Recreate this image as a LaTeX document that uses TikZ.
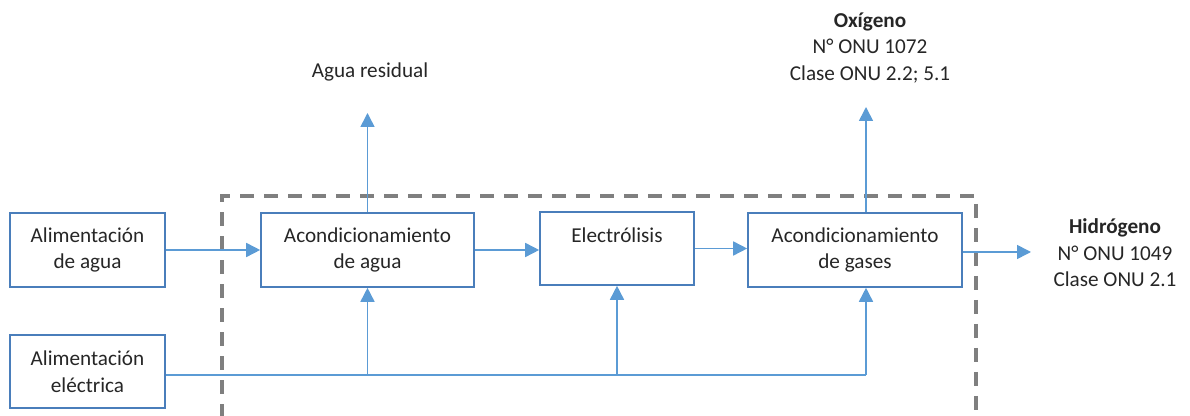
\documentclass[tikz,border=0pt]{standalone}
\usepackage{fontspec}
\setmainfont{Carlito}
\usetikzlibrary{arrows.meta,calc}
\definecolor{boxblue}{HTML}{4A7EBB}
\definecolor{linkblue}{HTML}{5B9BD5}
\definecolor{dashgray}{HTML}{7F7F7F}
\definecolor{txt}{HTML}{262626}
\begin{document}
\begin{tikzpicture}[x=0.5pt,y=-0.5pt,
 box/.style={draw=boxblue, line width=0.8pt, align=center, inner sep=0pt, text=txt, font=\fontsize{10.6}{13.25}\selectfont},
 lbl/.style={align=center, inner sep=0pt, text=txt, font=\fontsize{10.6}{13.25}\selectfont},
 flow/.style={draw=linkblue, line width=0.8pt, -{Triangle[length=7pt,width=7pt]}},
 wire/.style={draw=linkblue, line width=0.8pt},
 frame/.style={draw=dashgray, line width=1.6pt, dash pattern=on 7pt off 5pt}]
\useasboundingbox (0,0) rectangle (1190,416);
% dashed system boundary
\draw[frame] (222,418) -- (222,196) -- (976,196) -- (976,418);
% boxes
\node[box, minimum width=77.5pt, minimum height=37pt] (A) at (87.5,250) {Alimentación\\de agua};
\node[box, minimum width=77.5pt, minimum height=36.5pt] (B) at (87.5,371.5) {Alimentación\\eléctrica};
\node[box, minimum width=106.5pt, minimum height=37pt] (C) at (367.5,250) {Acondicionamiento\\de agua};
\node[box, minimum width=77pt, minimum height=36.5pt] (D) at (617,248.5) {Electrólisis\\\mbox{}};
\node[box, minimum width=107pt, minimum height=37pt] (E) at (855,250) {Acondicionamiento\\de gases};
% labels
\node[lbl] (AR) at (370,72) {Agua residual};
\node[lbl] (O2) at (870,48) {\textbf{Oxígeno}\\N° ONU 1072\\Clase ONU 2.2; 5.1};
\node[lbl] (H2) at (1115,253) {\textbf{Hidrógeno}\\N° ONU 1049\\Clase ONU 2.1};
% coordinates
\coordinate (jC) at (C.south |- 0,375);
\coordinate (jD) at (D.south |- 0,375);
\coordinate (jE) at (866,375);
\coordinate (eTop) at (866,0 |- E.north);
\coordinate (arTip) at (C.north |- 0,113);
\coordinate (oxTip) at (866,107);
\coordinate (hTip) at (1031,252);
% connectors
\draw[flow] (A.east) -- (C.west);
\draw[flow] (C.east) -- (D.west |- C.east);
\draw[flow] (D.east) -- (E.west |- D.east);
\draw[flow] (E.east |- hTip) -- (hTip);
\draw[flow] (C.north) -- (arTip);
\draw[flow] (eTop) -- (oxTip);
\draw[wire] (B.east |- jE) -- (jE);
\draw[flow] (jC) -- (C.south);
\draw[flow] (jD) -- (D.south);
\draw[flow] (jE) -- (jE |- E.south);
\end{tikzpicture}
\end{document}
